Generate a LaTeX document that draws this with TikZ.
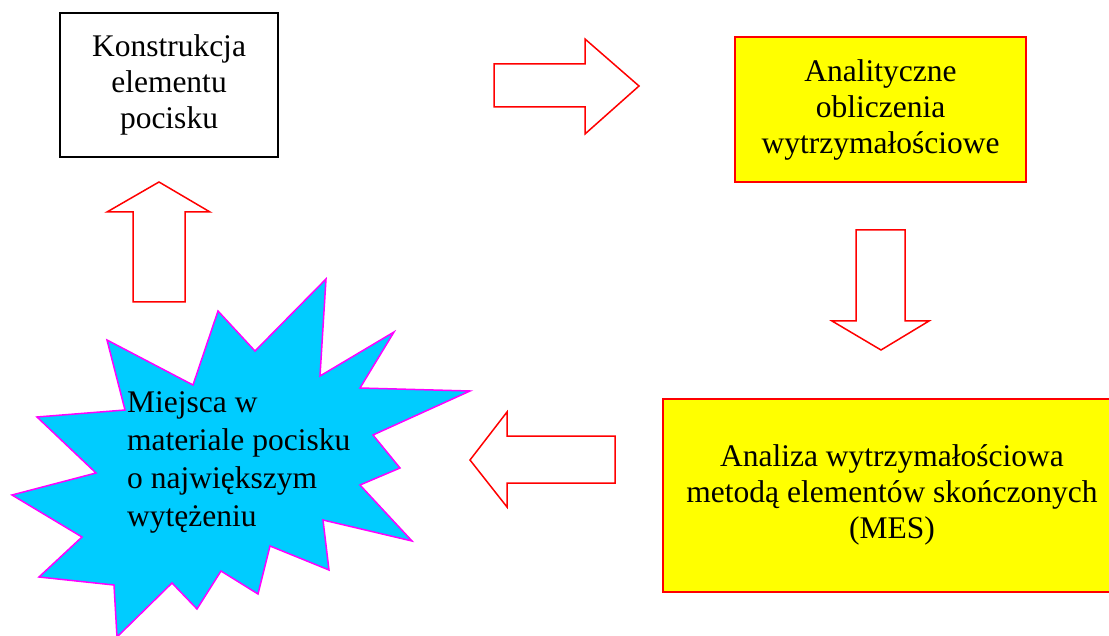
\documentclass[tikz,border=0pt]{standalone}
\usepackage{fontspec}
\setmainfont{Liberation Serif}
\definecolor{boxyellow}{RGB}{255,255,0}
\definecolor{starcyan}{RGB}{0,204,255}
\definecolor{starmag}{RGB}{255,0,255}
\begin{document}
\begin{tikzpicture}[x=1pt,y=-1pt,
  txt/.style={font=\fontsize{31.5}{36}\selectfont, align=center, inner sep=0pt},
  whitebox/.style={draw=black, line width=1.5pt, fill=white, minimum width=218pt, minimum height=144pt, txt},
  yellowbox/.style={draw=red, line width=1.5pt, fill=boxyellow, txt},
  blockarrow/.style={draw=red, line width=1.5pt, fill=white, line join=miter},
  star/.style={draw=starmag, line width=1.5pt, fill=starcyan, line join=miter}]
\useasboundingbox (0,0) rectangle (1109,636);
\begin{scope}
\clip (0,0) rectangle (1109,636);
% boxes
\node[whitebox] (konstr) at (169,85) {Konstrukcja\\elementu\\pocisku};
\node[yellowbox, minimum width=291pt, minimum height=145pt] (anal) at (880.5,109.5) {Analityczne\\obliczenia\\wytrzymałościowe};
\node[yellowbox, minimum width=458pt, minimum height=193pt] (mes) at (892,495.5) {\raisebox{3pt}{\begin{tabular}{@{}c@{}}Analiza wytrzymałościowa\\metodą elementów skończonych\\(MES)\end{tabular}}};
% block arrows
\draw[blockarrow] (494,64) -- (585,64) -- (585,39) -- (639,86) -- (585,134) -- (585,107) -- (494,107) -- cycle;
\draw[blockarrow] (856,230) -- (905,230) -- (905,321) -- (929,321) -- (881,350) -- (832,321) -- (856,321) -- cycle;
\draw[blockarrow] (615,436) -- (507,436) -- (507,412) -- (470,460) -- (507,507) -- (507,483) -- (615,483) -- cycle;
\draw[blockarrow] (133,302) -- (133,212) -- (107,212) -- (159,182) -- (210,212) -- (185,212) -- (185,302) -- cycle;
% star
\draw[star] (107,340) -- (193,385) -- (218,311) -- (255,351) -- (326,279) -- (320,376)
  -- (394,332) -- (360,388) -- (470,391) -- (373,435) -- (400,468) -- (360,485)
  -- (412,541) -- (323,520) -- (329,570) -- (270,546) -- (258,594) -- (221,571)
  -- (197,609) -- (172,583) -- (117,637) -- (114,585) -- (39,577) -- (82,537)
  -- (12,495) -- (96,473) -- (37,417) -- (125,410) -- cycle;
\node[txt, font=\fontsize{31.5}{38}\selectfont, align=left, anchor=north west] (miejsca) at (127,391) {Miejsca w\\materiale pocisku\\o największym\\wytężeniu};
\end{scope}
\end{tikzpicture}
\end{document}
